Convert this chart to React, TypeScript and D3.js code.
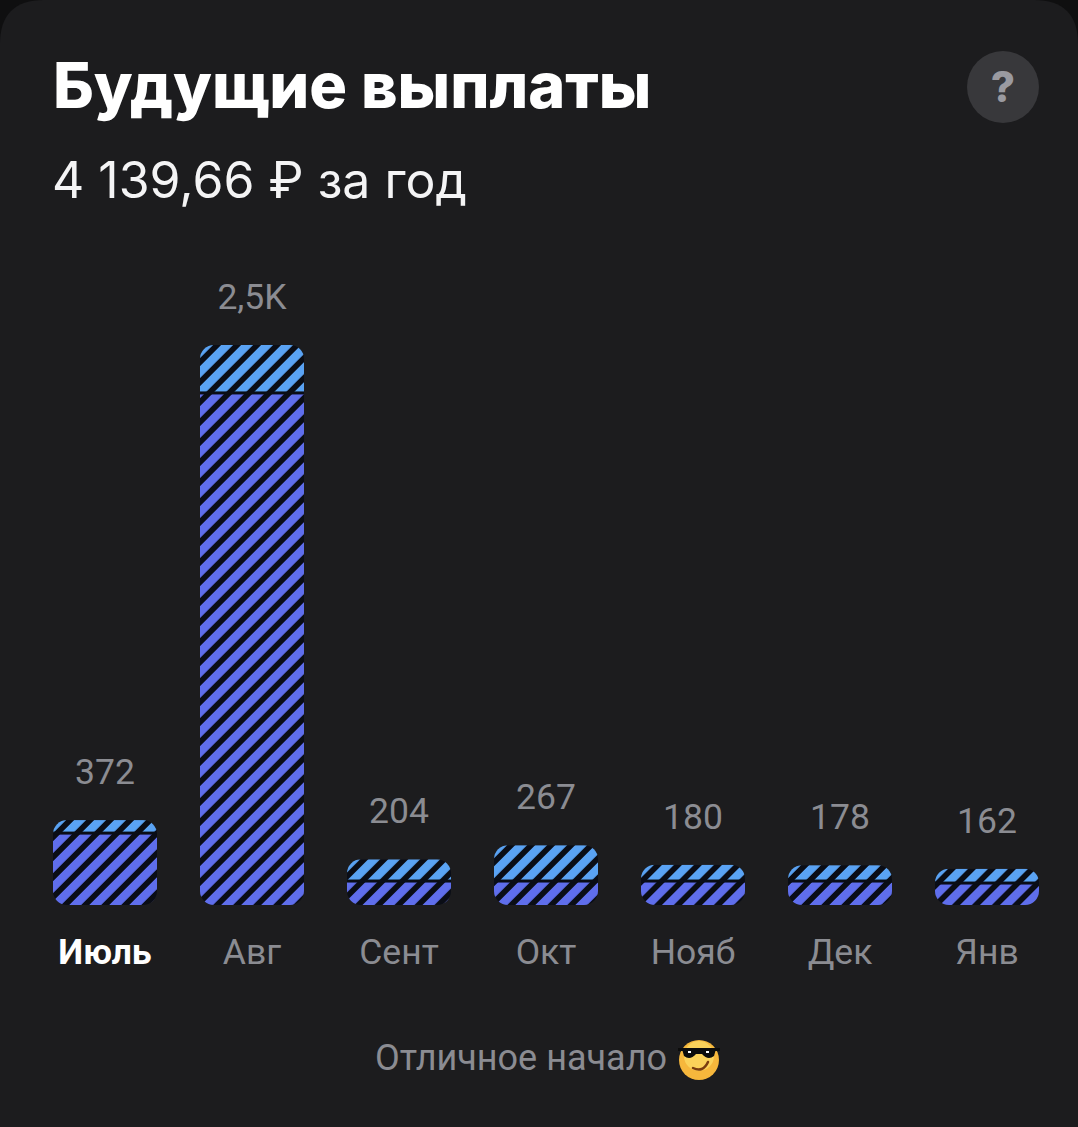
import React from "react";
import * as d3 from "d3";

const months = ["Июль", "Авг", "Сент", "Окт", "Нояб", "Дек", "Янв"];
const totals = [379, 2500, 204, 267, 180, 178, 162];
const lowerPart = [321, 2286, 107, 107, 107, 107, 98];
const valueLabels = ["372", "2,5K", "204", "267", "180", "178", "162"];
const title = "Будущие выплаты";
const subtitle = "4 139,66 ₽ за год";
const footer = "Отличное начало";

const W = 1078, H = 1127;
const font = "Roboto, sans-serif";
const headFont = "Inter, sans-serif";
const grey = "#8b8c92";
const x = d3.scaleBand<string>().domain(months).range([53, 1039]).paddingInner(43 / 147).paddingOuter(0);
const y = d3.scaleLinear().domain([0, 2500]).range([905, 345]);

export default function App() {
  const bw = x.bandwidth();
  return (
    <svg width={W} height={H} viewBox={`0 0 ${W} ${H}`} style={{ position: "fixed", left: 0, top: 0, display: "block" }}>
      <rect width={W} height={H} fill="#0f0f10" />
      <path d={`M0 ${H}V44Q0 0 44 0H${W - 44}Q${W} 0 ${W} 44V${H}Z`} fill="#1c1c1e" />
      <defs>
        {months.map((m, i) => {
          const top = y(totals[i]);
          const tx = (x(m) as number) + top + 1.2;
          const tr = `translate(${tx},0) rotate(45)`;
          return (
            <g key={m}>
              <clipPath id={`clip${i}`}><rect x={x(m)} y={top} width={bw} height={905 - top} rx={14} /></clipPath>
              <pattern id={`up${i}`} patternUnits="userSpaceOnUse" width={14.142} height={14.142} patternTransform={tr}>
                <rect width={14.142} height={14.142} fill="#0a0d16" />
                <rect width={8.4} height={14.142} fill="#5aa3f4" />
              </pattern>
              <pattern id={`lo${i}`} patternUnits="userSpaceOnUse" width={14.142} height={14.142} patternTransform={tr}>
                <rect width={14.142} height={14.142} fill="#0a0d16" />
                <rect width={8.4} height={14.142} fill="#5f6eec" />
              </pattern>
            </g>
          );
        })}
      </defs>

      <text x={53} y={108} fontFamily={headFont} fontWeight={800} fontSize={63} fill="#ffffff">{title}</text>
      <text x={52} y={198} fontFamily={headFont} fontSize={50} fill="#f4f4f5">{subtitle}</text>

      <circle cx={1003} cy={87} r={36} fill="#38383b" />
      <text x={1003} y={102} textAnchor="middle" fontFamily={headFont} fontWeight={800} fontSize={42} fill="#9a9aa0">?</text>

      {months.map((m, i) => {
        const left = x(m) as number;
        const top = y(totals[i]);
        const split = y(lowerPart[i]);
        const cx = left + bw / 2;
        return (
          <g key={m}>
            <g clipPath={`url(#clip${i})`}>
              <rect x={left} y={top} width={bw} height={split - top} fill={`url(#up${i})`} />
              <rect x={left} y={split} width={bw} height={905 - split} fill={`url(#lo${i})`} />
              <rect x={left} y={split - 1.5} width={bw} height={3} fill="#0a0d16" />
            </g>
            <text x={cx} y={top - 36} textAnchor="middle" fontFamily={font} fontSize={35.5} fill={grey}>{valueLabels[i]}</text>
            <text x={cx} y={964} textAnchor="middle" fontFamily={font} fontSize={35.5} fontWeight={i === 0 ? 700 : 400} fill={i === 0 ? "#ffffff" : grey}>{m}</text>
          </g>
        );
      })}

      <text x={375} y={1070} fontFamily={font} fontSize={36} fill={grey}>{footer}</text>
      <g>
        <circle cx={699} cy={1060} r={20} fill="#f6b73c" />
        <circle cx={699} cy={1056} r={15} fill="#fbd25a" />
        <path d="M682 1049H716L714 1056Q708 1061 702 1054H696Q690 1061 684 1056Z" fill="#0c0c0c" />
        <rect x={678} y={1048} width={42} height={3} fill="#0c0c0c" />
        <rect x={688} y={1051} width={3} height={2} fill="#ffffff" />
        <rect x={706} y={1051} width={3} height={2} fill="#ffffff" />
        <path d="M693 1068Q703 1073 708 1062" fill="none" stroke="#7a3d10" strokeWidth={2.5} strokeLinecap="round" />
      </g>
    </svg>
  );
}
